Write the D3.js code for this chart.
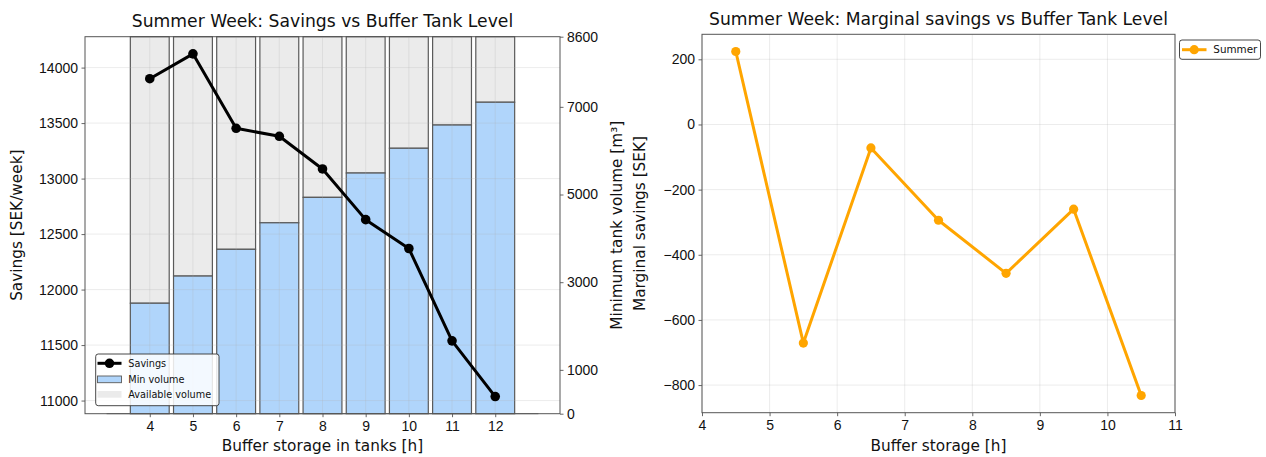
<!DOCTYPE html>
<html>
<head>
<meta charset="utf-8">
<script src="https://cdn.jsdelivr.net/npm/d3@7"></script>
<style>
  html, body { margin: 0; padding: 0; background: #fff; }
  svg { display: block; font-family: "DejaVu Sans", sans-serif; }
</style>
</head>
<body>
<svg id="chart" width="1266" height="457"></svg>
<script>
// Buffer storage levels (hours of storage in tanks)
const bufferHours = [4, 5, 6, 7, 8, 9, 10, 11, 12];
// Weekly savings per buffer level [SEK/week]
const savings = [13900, 14124, 13453, 13381, 13087, 12630, 12370, 11538, 11036];
// Minimum tank volume required per buffer level [m³]
const minVolume = [2520, 3140, 3750, 4355, 4935, 5490, 6055, 6585, 7105];
// Total tank volume available [m³]
const tankCapacity = 8600;

// Marginal savings between consecutive buffer levels
const marginalX = [4.5, 5.5, 6.5, 7.5, 8.5, 9.5, 10.5];
const marginalSavings = [224, -671, -72, -294, -457, -260, -832];

// Tick values
const savingsTicks = [11000, 11500, 12000, 12500, 13000, 13500, 14000];
const volumeTicks = [0, 1000, 3000, 5000, 7000, 8600];
const bufferTicks = [4, 5, 6, 7, 8, 9, 10, 11, 12];
const marginalTicks = [-800, -600, -400, -200, 0, 200];
const storageTicks = [4, 5, 6, 7, 8, 9, 10, 11];

const svg = d3.select("#chart");
const fmt = d3.format("d");

// Pad a data extent by 5% on each side
function padded(values) {
  const [lo, hi] = d3.extent(values);
  const m = (hi - lo) * 0.05;
  return [lo - m, hi + m];
}

const spineColor = "#555";
const gridColor = "#b0b0b0";

function styleAxis(g) {
  g.select(".domain").remove();
  g.selectAll(".tick line").attr("stroke", spineColor).attr("stroke-width", 0.9);
  g.selectAll(".tick text").attr("fill", "#111").style("font-size", "14px");
}

// ---------------- Left panel: savings vs buffer level ----------------
const L = { x0: 85, x1: 560, y0: 36.7, y1: 413.7 };
const xL = d3.scaleLinear().domain([2.5, 13.5]).range([L.x0, L.x1]);
const ySav = d3.scaleLinear().domain(padded(savings)).range([L.y1, L.y0]);
const yVol = d3.scaleLinear().domain([0, tankCapacity]).range([L.y1, L.y0]);
const barW = xL(0.9) - xL(0);

const left = svg.append("g");

// Baseline of the volume bars
left.append("line")
  .attr("x1", xL(3)).attr("x2", xL(13))
  .attr("y1", yVol(0)).attr("y2", yVol(0))
  .attr("stroke", "#777").attr("stroke-width", 1);

// Available volume (from minimum up to full capacity)
left.append("g").selectAll("rect")
  .data(bufferHours)
  .join("rect")
  .attr("x", d => xL(d) - barW / 2)
  .attr("width", barW)
  .attr("y", yVol(tankCapacity))
  .attr("height", (d, i) => yVol(minVolume[i]) - yVol(tankCapacity))
  .attr("fill", "#ebebeb")
  .attr("stroke", "#5a5a5a").attr("stroke-width", 1.2);

// Minimum tank volume
left.append("g").selectAll("rect")
  .data(bufferHours)
  .join("rect")
  .attr("x", d => xL(d) - barW / 2)
  .attr("width", barW)
  .attr("y", (d, i) => yVol(minVolume[i]))
  .attr("height", (d, i) => yVol(0) - yVol(minVolume[i]))
  .attr("fill", "#b0d5fb")
  .attr("stroke", "#5a5a5a").attr("stroke-width", 1.2);

// Grid
const gridL = left.append("g").attr("stroke", gridColor).attr("stroke-opacity", 0.3).attr("stroke-width", 0.8);
gridL.selectAll(".v").data(bufferTicks).join("line")
  .attr("x1", d => xL(d)).attr("x2", d => xL(d)).attr("y1", L.y0).attr("y2", L.y1);
gridL.selectAll(".h").data(savingsTicks).join("line")
  .attr("x1", L.x0).attr("x2", L.x1).attr("y1", d => ySav(d)).attr("y2", d => ySav(d));

// Savings line
const savLine = d3.line().x((d, i) => xL(bufferHours[i])).y(d => ySav(d));
left.append("path")
  .datum(savings)
  .attr("d", savLine)
  .attr("fill", "none").attr("stroke", "#000").attr("stroke-width", 3)
  .attr("stroke-linejoin", "round");
left.append("g").selectAll("circle")
  .data(savings).join("circle")
  .attr("cx", (d, i) => xL(bufferHours[i])).attr("cy", d => ySav(d))
  .attr("r", 4.8).attr("fill", "#000");

// Spines
left.append("rect")
  .attr("x", L.x0).attr("y", L.y0).attr("width", L.x1 - L.x0).attr("height", L.y1 - L.y0)
  .attr("fill", "none").attr("stroke", spineColor).attr("stroke-width", 1);

// Axes
left.append("g").attr("transform", `translate(0,${L.y1})`)
  .call(d3.axisBottom(xL).tickValues(bufferTicks).tickFormat(fmt).tickSize(3.5).tickPadding(3.5))
  .call(styleAxis);
left.append("g").attr("transform", `translate(${L.x0},0)`)
  .call(d3.axisLeft(ySav).tickValues(savingsTicks).tickFormat(fmt).tickSize(3.5).tickPadding(3.5))
  .call(styleAxis);
left.append("g").attr("transform", `translate(${L.x1},0)`)
  .call(d3.axisRight(yVol).tickValues(volumeTicks).tickFormat(fmt).tickSize(3.5).tickPadding(3.5))
  .call(styleAxis);

// Titles and labels
left.append("text")
  .attr("x", (L.x0 + L.x1) / 2).attr("y", 26.5)
  .attr("text-anchor", "middle").style("font-size", "17.2px").attr("fill", "#111")
  .text("Summer Week: Savings vs Buffer Tank Level");
left.append("text")
  .attr("x", (L.x0 + L.x1) / 2).attr("y", 450.5)
  .attr("text-anchor", "middle").style("font-size", "15.3px").attr("fill", "#111")
  .text("Buffer storage in tanks [h]");
left.append("text")
  .attr("transform", `translate(22,${(L.y0 + L.y1) / 2}) rotate(-90)`)
  .attr("text-anchor", "middle").style("font-size", "15.3px").attr("fill", "#111")
  .text("Savings [SEK/week]");
left.append("text")
  .attr("transform", `translate(622,${(L.y0 + L.y1) / 2}) rotate(-90)`)
  .attr("text-anchor", "middle").style("font-size", "15.3px").attr("fill", "#111")
  .text("Minimum tank volume [m³]");

// Legend
const legL = left.append("g");
legL.append("rect")
  .attr("x", 95.7).attr("y", 354).attr("width", 123.3).attr("height", 51.7)
  .attr("rx", 2.5).attr("fill", "#fff").attr("fill-opacity", 0.85)
  .attr("stroke", "#333").attr("stroke-width", 0.9);
legL.append("line").attr("x1", 97.5).attr("x2", 121.5).attr("y1", 363.3).attr("y2", 363.3)
  .attr("stroke", "#000").attr("stroke-width", 3);
legL.append("circle").attr("cx", 109.5).attr("cy", 363.3).attr("r", 4.8).attr("fill", "#000");
legL.append("rect").attr("x", 97.5).attr("y", 376).attr("width", 24).attr("height", 6.7)
  .attr("fill", "#b0d5fb").attr("stroke", "#5a5a5a").attr("stroke-width", 0.9);
legL.append("rect").attr("x", 97.5).attr("y", 391).attr("width", 24).attr("height", 6.7)
  .attr("fill", "#ebebeb");
[["Savings", 363.3], ["Min volume", 379.3], ["Available volume", 394.6]].forEach(([t, y]) => {
  legL.append("text").attr("x", 128.3).attr("y", y).attr("dy", "0.36em")
    .style("font-size", "9.7px").attr("fill", "#111").text(t);
});

// ---------------- Right panel: marginal savings ----------------
const R = { x0: 702, x1: 1175, y0: 34.3, y1: 412.7 };
const xR = d3.scaleLinear().domain([4, 11]).range([R.x0, R.x1]);
const yR = d3.scaleLinear().domain(padded(marginalSavings)).range([R.y1, R.y0]);

const right = svg.append("g");

const gridR = right.append("g").attr("stroke", gridColor).attr("stroke-opacity", 0.3).attr("stroke-width", 0.8);
gridR.selectAll(".v").data(storageTicks).join("line")
  .attr("x1", d => xR(d)).attr("x2", d => xR(d)).attr("y1", R.y0).attr("y2", R.y1);
gridR.selectAll(".h").data(marginalTicks).join("line")
  .attr("x1", R.x0).attr("x2", R.x1).attr("y1", d => yR(d)).attr("y2", d => yR(d));

const margLine = d3.line().x((d, i) => xR(marginalX[i])).y(d => yR(d));
right.append("path")
  .datum(marginalSavings)
  .attr("d", margLine)
  .attr("fill", "none").attr("stroke", "#ffa500").attr("stroke-width", 3)
  .attr("stroke-linejoin", "round");
right.append("g").selectAll("circle")
  .data(marginalSavings).join("circle")
  .attr("cx", (d, i) => xR(marginalX[i])).attr("cy", d => yR(d))
  .attr("r", 4.6).attr("fill", "#ffa500");

right.append("rect")
  .attr("x", R.x0).attr("y", R.y0).attr("width", R.x1 - R.x0).attr("height", R.y1 - R.y0)
  .attr("fill", "none").attr("stroke", spineColor).attr("stroke-width", 1);

right.append("g").attr("transform", `translate(0,${R.y1})`)
  .call(d3.axisBottom(xR).tickValues(storageTicks).tickFormat(fmt).tickSize(3.5).tickPadding(3.5))
  .call(styleAxis);
right.append("g").attr("transform", `translate(${R.x0},0)`)
  .call(d3.axisLeft(yR).tickValues(marginalTicks).tickFormat(d3.format("d")).tickSize(3.5).tickPadding(3.5))
  .call(styleAxis);

right.append("text")
  .attr("x", (R.x0 + R.x1) / 2).attr("y", 25)
  .attr("text-anchor", "middle").style("font-size", "17.2px").attr("fill", "#111")
  .text("Summer Week: Marginal savings vs Buffer Tank Level");
right.append("text")
  .attr("x", (R.x0 + R.x1) / 2).attr("y", 450.5)
  .attr("text-anchor", "middle").style("font-size", "15.3px").attr("fill", "#111")
  .text("Buffer storage [h]");
right.append("text")
  .attr("transform", `translate(645,${(R.y0 + R.y1) / 2}) rotate(-90)`)
  .attr("text-anchor", "middle").style("font-size", "15.3px").attr("fill", "#111")
  .text("Marginal savings [SEK]");

const legR = right.append("g");
legR.append("rect")
  .attr("x", 1179.5).attr("y", 40).attr("width", 81).attr("height", 19.3)
  .attr("rx", 2.5).attr("fill", "#fff").attr("stroke", "#333").attr("stroke-width", 0.9);
legR.append("line").attr("x1", 1182).attr("x2", 1206.5).attr("y1", 49.7).attr("y2", 49.7)
  .attr("stroke", "#ffa500").attr("stroke-width", 3);
legR.append("circle").attr("cx", 1194.2).attr("cy", 49.7).attr("r", 4.6).attr("fill", "#ffa500");
legR.append("text").attr("x", 1213.3).attr("y", 49.7).attr("dy", "0.36em")
  .style("font-size", "10.4px").attr("fill", "#111").text("Summer");
</script>
</body>
</html>
